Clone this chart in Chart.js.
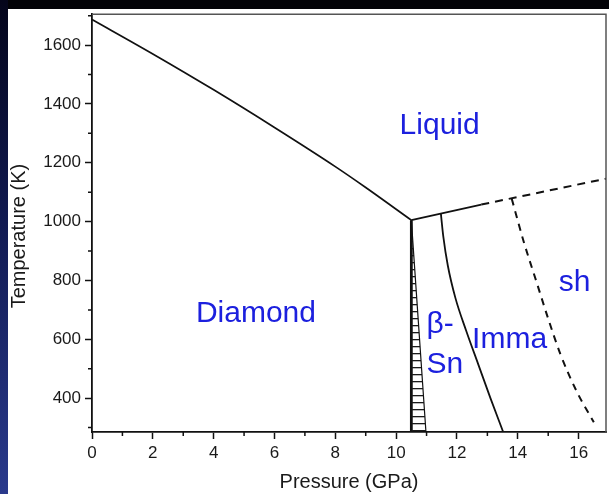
<!DOCTYPE html>
<html>
<head>
<meta charset="utf-8">
<title>Silicon phase diagram</title>
<script src="https://cdn.jsdelivr.net/npm/chart.js@4.4.1/dist/chart.umd.min.js"></script>
<style>
  html, body { margin: 0; padding: 0; width: 609px; height: 494px; overflow: hidden; background: #020207; }
  #edge { position: absolute; left: 0; top: 0; width: 8px; height: 494px;
          background: linear-gradient(#04051a 0%, #111a52 45%, #2a3a8c 100%); }
  #panel { position: absolute; left: 8px; top: 9px; width: 601px; height: 485px; background: #fff; }
  #wrap { position: absolute; left: 0; top: 0; width: 609px; height: 494px; }
</style>
</head>
<body>
<div id="edge"></div>
<div id="panel"></div>
<div id="wrap"><canvas id="c" width="609" height="494"></canvas></div>
<script>
// Pressure in GPa, temperature in K

// melting curve of diamond-structure Si
const meltP = [0, 2, 4, 6, 8, 9, 10.5];
const meltT = [1687, 1570, 1448, 1320, 1187, 1116, 1005];

// melting line of the β-Sn phase (measured part)
const betaMeltP = [10.5, 12.8];
const betaMeltT = [1005, 1058];

// melting line, extrapolated (dashed)
const extMeltP = [12.8, 16.9];
const extMeltT = [1058, 1146];

// diamond / β-Sn boundary
const diaBetaP = [10.5, 10.5];
const diaBetaT = [1005, 285];

// diamond + β-Sn coexistence region (hatched)
const coexP = [10.5, 10.5, 10.98, 10.5];
const coexT = [1005, 285, 285, 1005];

// β-Sn / Imma boundary
const betaImmaP = [11.47, 11.55, 11.7, 11.95, 12.3, 12.7, 13.1, 13.52];
const betaImmaT = [1028, 950, 850, 740, 630, 515, 400, 285];

// Imma / sh boundary (dashed)
const immaShP = [13.8, 14.2, 14.6, 15.0, 15.4, 15.95, 16.5];
const immaShT = [1078, 930, 800, 670, 550, 420, 318];

// axis ticks
const majorP = [0, 2, 4, 6, 8, 10, 12, 14, 16];
const minorP = [1, 3, 5, 7, 9, 11, 13, 15];
const majorT = [400, 600, 800, 1000, 1200, 1400, 1600];
const minorT = [300, 500, 700, 900, 1100, 1300, 1500, 1700];

// phase names
const phaseText = ['Liquid', 'Diamond', 'β-', 'Sn', 'Imma', 'sh'];
const phaseP    = [11.43, 5.39, 11.0, 11.0, 13.73, 15.87];
const phaseT    = [1299, 660, 620, 484, 572, 765];
const phaseAlign = ['center', 'center', 'left', 'left', 'center', 'center'];

const pts = (xs, ys) => xs.map((x, i) => ({ x: x, y: ys[i] }));

const FONT = 'Liberation Sans, Arial, Helvetica, sans-serif';
const INK = '#111';
const BLUE = 'rgb(28, 32, 222)';

const canvas = document.getElementById('c');
const ctx = canvas.getContext('2d');

// horizontal-line hatch for the coexistence region
function hatchPattern() {
  const t = document.createElement('canvas');
  t.width = 4; t.height = 7;
  const g = t.getContext('2d');
  g.fillStyle = '#1a1a1a';
  g.fillRect(0, 3, 4, 1.3);
  return ctx.createPattern(t, 'repeat');
}

const frame = {
  id: 'frame',
  afterDatasetsDraw(chart) {
    const a = chart.chartArea, c = chart.ctx;
    c.save();
    c.strokeStyle = '#555';
    c.lineWidth = 1.5;
    c.beginPath();
    c.moveTo(a.left, a.top);
    c.lineTo(a.right, a.top);
    c.lineTo(a.right, a.bottom);
    c.stroke();
    c.restore();
  }
};

const minorTicks = {
  id: 'minorTicks',
  afterDraw(chart) {
    const xs = chart.scales.x, ys = chart.scales.y, c = chart.ctx;
    c.save();
    c.strokeStyle = INK;
    c.lineWidth = 1.5;
    c.beginPath();
    minorP.forEach(v => {
      const px = xs.getPixelForValue(v);
      c.moveTo(px, ys.bottom);
      c.lineTo(px, ys.bottom + 4);
    });
    minorT.forEach(v => {
      const py = ys.getPixelForValue(v);
      c.moveTo(xs.left, py);
      c.lineTo(xs.left - 4, py);
    });
    c.stroke();
    c.restore();
  }
};

const phaseLabels = {
  id: 'phaseLabels',
  afterDraw(chart) {
    const xs = chart.scales.x, ys = chart.scales.y, c = chart.ctx;
    c.save();
    c.fillStyle = BLUE;
    c.font = '30px ' + FONT;
    c.textBaseline = 'alphabetic';
    phaseText.forEach((t, i) => {
      c.textAlign = phaseAlign[i];
      c.fillText(t, xs.getPixelForValue(phaseP[i]), ys.getPixelForValue(phaseT[i]));
    });
    c.restore();
  }
};

const yTitle = {
  id: 'yTitle',
  afterDraw(chart) {
    const ys = chart.scales.y, c = chart.ctx;
    c.save();
    c.fillStyle = '#1a1a1a';
    c.font = '20px ' + FONT;
    c.textAlign = 'center';
    c.textBaseline = 'middle';
    c.translate(19, (ys.top + ys.bottom) / 2 + 13);
    c.rotate(-Math.PI / 2);
    c.fillText('Temperature (K)', 0, 0);
    c.restore();
  }
};

const line = (data, width, dash) => ({
  data: data,
  showLine: true,
  borderColor: INK,
  borderWidth: width,
  borderDash: dash || [],
  pointRadius: 0,
  cubicInterpolationMode: 'monotone',
  fill: false
});

new Chart(canvas, {
  type: 'scatter',
  data: {
    datasets: [
      Object.assign(line(pts(coexP, coexT), 1.2), { fill: 'shape', backgroundColor: hatchPattern(), cubicInterpolationMode: 'default', tension: 0 }),
      line(pts(meltP, meltT), 1.7),
      line(pts(betaMeltP, betaMeltT), 1.8),
      line(pts(extMeltP, extMeltT), 2, [8, 6]),
      Object.assign(line(pts(diaBetaP, diaBetaT), 2.8), { cubicInterpolationMode: 'default', tension: 0 }),
      line(pts(betaImmaP, betaImmaT), 1.8),
      line(pts(immaShP, immaShT), 2, [7, 6])
    ]
  },
  options: {
    responsive: false,
    animation: false,
    devicePixelRatio: 1,
    layout: { padding: { left: 0, right: 3, top: 12, bottom: 0 } },
    plugins: { legend: { display: false }, tooltip: { enabled: false } },
    scales: {
      x: {
        type: 'linear',
        min: 0,
        max: 16.9,
        afterBuildTicks: s => { s.ticks = majorP.map(v => ({ value: v })); },
        afterFit: s => { s.height = 62; },
        grid: { drawOnChartArea: false, drawTicks: true, tickLength: 7, tickColor: INK, tickWidth: 1.5 },
        border: { color: INK, width: 1.8 },
        ticks: { color: '#1a1a1a', font: { family: FONT, size: 17 }, padding: 4, maxRotation: 0, callback: v => String(v) },
        title: { display: true, text: 'Pressure (GPa)', color: '#1a1a1a', font: { family: FONT, size: 20 }, padding: { top: 2, bottom: 0 } }
      },
      y: {
        type: 'linear',
        min: 285,
        max: 1705,
        afterBuildTicks: s => { s.ticks = majorT.map(v => ({ value: v })); },
        afterFit: s => { s.width = 92; },
        grid: { drawOnChartArea: false, drawTicks: true, tickLength: 7, tickColor: INK, tickWidth: 1.5 },
        border: { color: INK, width: 1.8 },
        ticks: { color: '#1a1a1a', font: { family: FONT, size: 17 }, padding: 4, callback: v => String(v) }
      }
    }
  },
  plugins: [frame, minorTicks, phaseLabels, yTitle]
});
</script>
</body>
</html>
